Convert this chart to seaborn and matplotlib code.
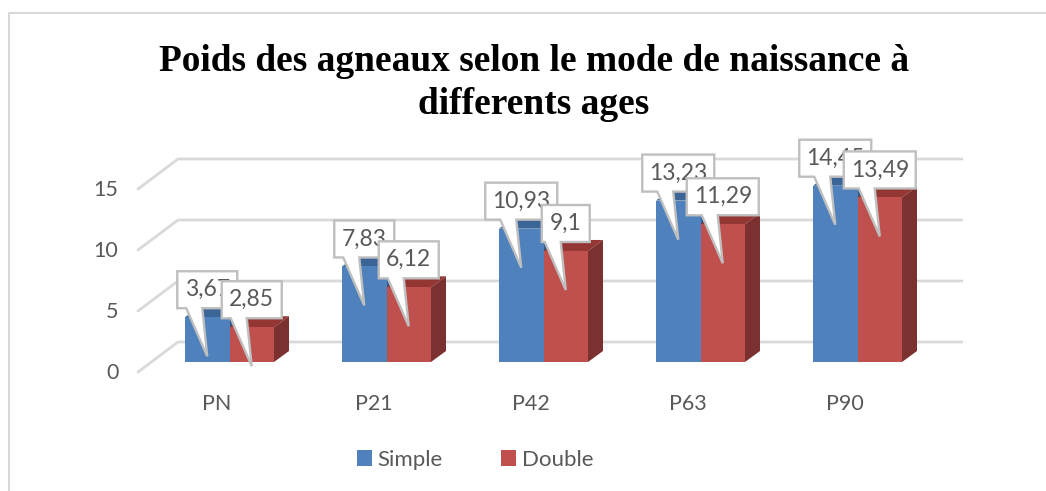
import pandas as pd
import seaborn as sns
import matplotlib.pyplot as plt
from matplotlib.patches import Polygon
from matplotlib.transforms import Affine2D, IdentityTransform

# values
ages = ["PN", "P21", "P42", "P63", "P90"]
simple = [3.67, 7.83, 10.93, 13.23, 14.45]
double = [2.85, 6.12, 9.1, 11.29, 13.49]
simple_labels = ["3,67", "7,83", "10,93", "13,23", "14,45"]
double_labels = ["2,85", "6,12", "9,1", "11,29", "13,49"]
y_ticks = [0, 5, 10, 15]

W, H = 1046, 491

df = pd.DataFrame({
    "age": ages * 2,
    "poids": simple + double,
    "mode": ["Simple"] * 5 + ["Double"] * 5,
})

sns.set_theme(style="white")
plt.rcParams["font.family"] = ["Lato", "DejaVu Sans"]

fig = plt.figure(figsize=(W / 100, H / 100), dpi=100)
# plot area in pixels: x 178-962, y 159-362
ax = fig.add_axes([178 / W, (H - 362) / H, (962 - 178) / W, 203 / H])
sns.barplot(data=df, x="age", y="poids", hue="mode", palette=["#4F81BD", "#C0504D"],
            width=0.567, saturation=1, ax=ax, zorder=3, linewidth=0)

ax.set_xlim((178 - 229.5) / 157, (962 - 229.5) / 157)
ax.set_ylim(0, 203 / 12.2)
ax.set_xlabel("")
ax.set_ylabel("")
sns.despine(ax=ax, left=True, bottom=True, top=True, right=True)
ax.set_yticks(y_ticks)
ax.tick_params(axis="y", length=0, pad=43, labelsize=15.5, labelcolor="#595959")
ax.tick_params(axis="x", length=0, pad=23, labelsize=15.5, labelcolor="#595959")
for lab in ax.get_yticklabels():
    lab.set_transform(lab.get_transform() + Affine2D().translate(0, -9))
for lab in ax.get_xticklabels():
    lab.set_transform(lab.get_transform() + Affine2D().translate(-12.5, 0))


def to_px(x, y):
    return ax.transData.transform((x, y))


# back wall and side wall gridlines
for v in y_ticks:
    _, py = to_px(0, v)
    ln = plt.Line2D([138, 178, 962], [py - 10, py + 20, py + 20], color="#D9D9D9", lw=2,
                    transform=IdentityTransform(), clip_on=False, zorder=1)
    ax.add_line(ln)

# depth faces of the bars
colors = {0: ("#3C6597", "#335A86"), 1: ("#943634", "#7B3130")}
dx, dy = 15, 11
for i, cont in enumerate(ax.containers):
    top_col, side_col = colors[i]
    for bar in cont:
        bar.set_zorder(3 + i * 2 + 1)
        x0, y0 = to_px(bar.get_x(), 0)
        x1, y1 = to_px(bar.get_x() + bar.get_width(), bar.get_height())
        ax.add_patch(Polygon([(x0, y1), (x1, y1), (x1 + dx, y1 + dy), (x0 + dx, y1 + dy)],
                             fc=top_col, ec="none", transform=IdentityTransform(),
                             clip_on=False, zorder=3 + i * 2))
        ax.add_patch(Polygon([(x1, y0), (x1 + dx, y0 + dy), (x1 + dx, y1 + dy), (x1, y1)],
                             fc=side_col, ec="none", transform=IdentityTransform(),
                             clip_on=False, zorder=3 + i * 2))
        bar.set_clip_on(False)


# callout data labels, double series on top of simple
def callout(bar, txt, z):
    tx, ty = to_px(bar.get_x() + bar.get_width() / 2, bar.get_height())
    ty -= 39
    half = {3: 24, 4: 30, 5: 36}[len(txt)]
    b0, b1 = ty + 48, ty + 85
    pts = [(tx - half, b1), (tx + half, b1), (tx + half, b0), (tx - 5, b0), (tx, ty),
           (tx - 21, b0), (tx - half, b0)]
    ax.add_patch(Polygon(pts, closed=True, fc="white", ec="#BFBFBF", lw=1.7,
                         transform=IdentityTransform(), clip_on=False, zorder=z))
    ax.text(tx, (b0 + b1) / 2, txt, transform=IdentityTransform(), ha="center", va="center",
            fontsize=16.5, color="#595959", zorder=z + 0.1, clip_on=False)


z = 10
for bar_s, bar_d, ls, ld in zip(ax.containers[0], ax.containers[1], simple_labels, double_labels):
    callout(bar_s, ls, z)
    callout(bar_d, ld, z + 1)
    z += 2

handles, labels = ax.get_legend_handles_labels()
ax.legend(handles, labels, ncols=2, frameon=False, loc="center", bbox_to_anchor=(475 / W, (H - 460) / H),
          bbox_transform=fig.transFigure, fontsize=16, labelcolor="#595959", handlelength=0.7,
          handleheight=0.7, handletextpad=0.25, columnspacing=2.6)

fig.text(534 / W, (H - 83) / H, "Poids des agneaux selon le mode de naissance à\ndifferents ages",
         family="Liberation Serif", weight="bold", fontsize=26.9, color="black", ha="center",
         va="center", linespacing=1.26)

# outer chart frame, open on the right
fig.add_artist(plt.Line2D([9 / W, 9 / W, 1], [0, (H - 13) / H, (H - 13) / H],
                          color="#D9D9D9", lw=1.5))

plt.savefig("out.png", dpi=100)
